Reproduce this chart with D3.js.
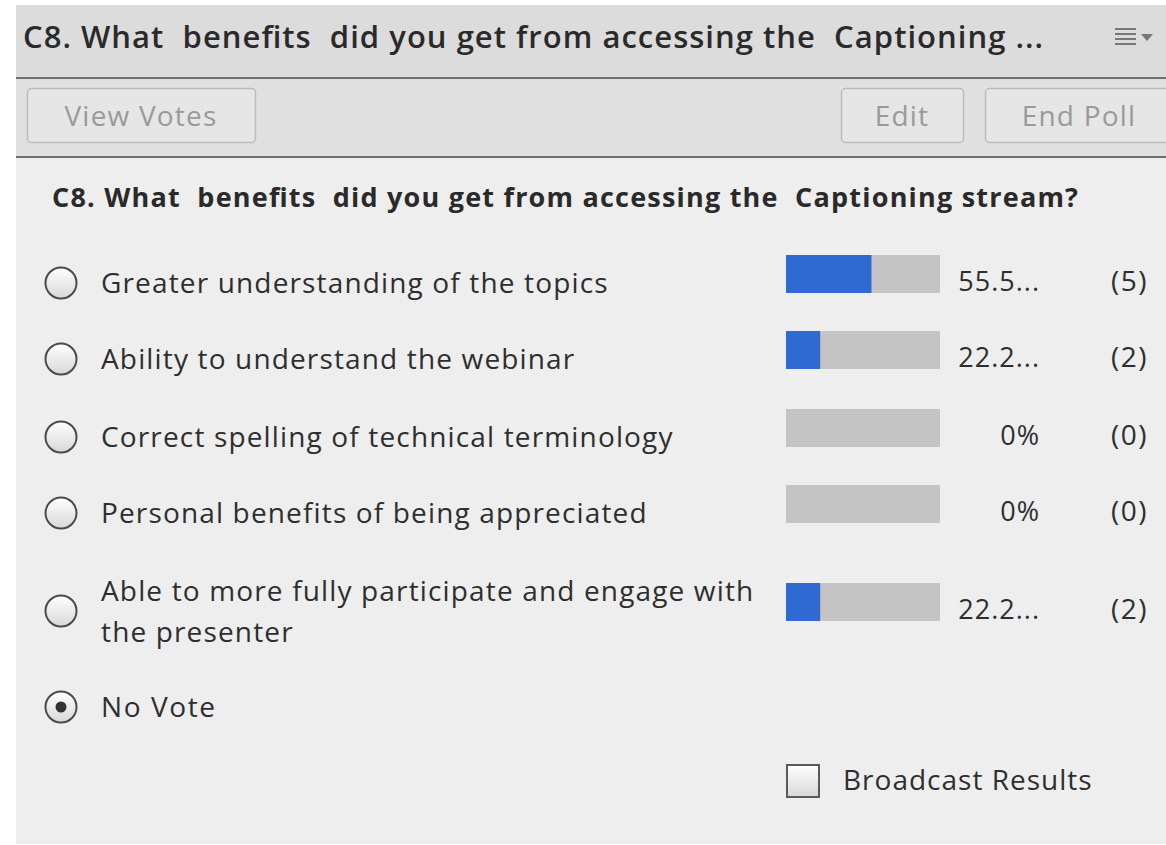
<!DOCTYPE html>
<html>
<head>
<meta charset="utf-8">
<script src="https://cdn.jsdelivr.net/npm/d3@7"></script>
<style>
  html, body { margin: 0; padding: 0; background: #fff; }
  svg { display: block; font-family: "Open Sans", "Noto Sans", sans-serif; }
  text { white-space: pre; }
</style>
</head>
<body>
<script>
// Poll data
const answers = [
  ["Greater understanding of the topics"],
  ["Ability to understand the webinar"],
  ["Correct spelling of technical terminology"],
  ["Personal benefits of being appreciated"],
  ["Able to more fully participate and engage with", "the presenter"]
];
const percents = [55.5, 22.2, 0, 0, 22.2];
const percentLabels = ["55.5...", "22.2...", "0%", "0%", "22.2..."];
const counts = [5, 2, 0, 0, 2];
const rowCenters = [283, 359, 437, 513, 611];

const width = 1166;
const height = 845;

const svg = d3.select("body").append("svg")
    .attr("width", width)
    .attr("height", height);

const defs = svg.append("defs");
const grad = defs.append("linearGradient")
    .attr("id", "radioFill")
    .attr("x1", 0).attr("y1", 0).attr("x2", 0).attr("y2", 1);
grad.append("stop").attr("offset", "0%").attr("stop-color", "#ffffff");
grad.append("stop").attr("offset", "100%").attr("stop-color", "#d8d8d8");

// Panel backgrounds
svg.append("rect").attr("x", 16).attr("y", 5).attr("width", width - 16).attr("height", 73).attr("fill", "#dcdcdc");
svg.append("rect").attr("x", 16).attr("y", 79).attr("width", width - 16).attr("height", 78).attr("fill", "#e0e0e0");
svg.append("rect").attr("x", 16).attr("y", 158).attr("width", width - 16).attr("height", height - 159).attr("fill", "#eeeeee");
svg.append("rect").attr("x", 16).attr("y", 77).attr("width", width - 16).attr("height", 2).attr("fill", "#6f6f6f");
svg.append("rect").attr("x", 16).attr("y", 156).attr("width", width - 16).attr("height", 2).attr("fill", "#6f6f6f");

// Header title
svg.append("text")
    .attr("x", 23).attr("y", 48)
    .attr("font-size", 31).attr("font-weight", 600).attr("fill", "#2a2a2a")
    .attr("textLength", 1020).attr("lengthAdjust", "spacing")
    .text("C8. What  benefits  did you get from accessing the  Captioning ...");

// Menu icon
const menu = svg.append("g").attr("fill", "#777");
[0, 1, 2, 3].forEach(i => {
  menu.append("rect").attr("x", 1115).attr("y", 28 + i * 5).attr("width", 21).attr("height", 2);
});
menu.append("path").attr("d", "M1141,34 L1153,34 L1147,41 Z");

// Toolbar buttons
const buttons = [
  { label: "View Votes", x: 27, w: 228 },
  { label: "Edit", x: 841, w: 122 },
  { label: "End Poll", x: 985, w: 190 }
];
const btn = svg.selectAll("g.btn").data(buttons).enter().append("g").attr("class", "btn");
btn.append("rect")
    .attr("x", d => d.x + 0.5).attr("y", 88.5)
    .attr("width", d => d.w).attr("height", 54)
    .attr("rx", 4)
    .attr("fill", "#e6e6e6").attr("stroke", "#bcbcbc").attr("stroke-width", 1.5);
btn.append("text")
    .attr("x", d => d.label === "End Poll" ? d.x + 94 : d.x + d.w / 2)
    .attr("y", 126)
    .attr("text-anchor", "middle")
    .attr("font-size", 28).attr("letter-spacing", 1.2).attr("fill", "#9a9a9a")
    .text(d => d.label);

// Question
svg.append("text")
    .attr("x", 52).attr("y", 207)
    .attr("font-size", 27).attr("font-weight", 700).attr("fill", "#2a2a2a")
    .attr("textLength", 1026).attr("lengthAdjust", "spacing")
    .text("C8. What  benefits  did you get from accessing the  Captioning stream?");

// Bar scale
const x = d3.scaleLinear().domain([0, 100]).range([0, 154]);
const barX = 786, barH = 38;

const rows = svg.selectAll("g.row")
    .data(answers.map((a, i) => ({ lines: a, pct: percents[i], label: percentLabels[i], count: counts[i], cy: rowCenters[i] })))
    .enter().append("g").attr("class", "row");

rows.append("circle")
    .attr("cx", 61).attr("cy", d => d.cy).attr("r", 15.5)
    .attr("fill", "url(#radioFill)").attr("stroke", "#4a4a4a").attr("stroke-width", 2);

rows.append("text")
    .attr("x", 101)
    .attr("y", d => d.lines.length > 1 ? d.cy - 10 : d.cy + 10)
    .attr("font-size", 28).attr("letter-spacing", 1.15).attr("fill", "#2e2e2e")
    .selectAll("tspan").data(d => d.lines).enter().append("tspan")
    .attr("x", 101).attr("dy", (d, i) => i === 0 ? 0 : 41)
    .text(d => d);

const barY = d => d.cy - 28;
rows.append("rect")
    .attr("x", barX).attr("y", barY)
    .attr("width", x(100)).attr("height", barH)
    .attr("fill", "#c4c4c4");
rows.append("rect")
    .attr("x", barX).attr("y", barY)
    .attr("width", d => x(d.pct)).attr("height", barH)
    .attr("fill", "#3069d1");

rows.append("text")
    .attr("x", 1040).attr("y", d => barY(d) + 36)
    .attr("text-anchor", "end")
    .attr("font-size", 27).attr("letter-spacing", 1).attr("fill", "#2e2e2e")
    .text(d => d.label);
rows.append("text")
    .attr("x", 1148).attr("y", d => barY(d) + 36)
    .attr("text-anchor", "end")
    .attr("font-size", 28).attr("letter-spacing", 1.5).attr("fill", "#2e2e2e")
    .text(d => `(${d.count})`);

// No Vote option (selected)
svg.append("circle")
    .attr("cx", 61).attr("cy", 707).attr("r", 15.5)
    .attr("fill", "url(#radioFill)").attr("stroke", "#4a4a4a").attr("stroke-width", 2);
svg.append("circle").attr("cx", 61).attr("cy", 707).attr("r", 5.5).attr("fill", "#333");
svg.append("text")
    .attr("x", 101).attr("y", 717)
    .attr("font-size", 28).attr("letter-spacing", 1.6).attr("fill", "#2e2e2e")
    .text("No Vote");

// Broadcast checkbox
svg.append("rect")
    .attr("x", 787).attr("y", 765).attr("width", 32).attr("height", 32)
    .attr("fill", "url(#radioFill)").attr("stroke", "#5a5a5a").attr("stroke-width", 2);
svg.append("text")
    .attr("x", 843).attr("y", 790)
    .attr("font-size", 28).attr("letter-spacing", 1).attr("fill", "#2e2e2e")
    .text("Broadcast Results");
</script>
</body>
</html>
